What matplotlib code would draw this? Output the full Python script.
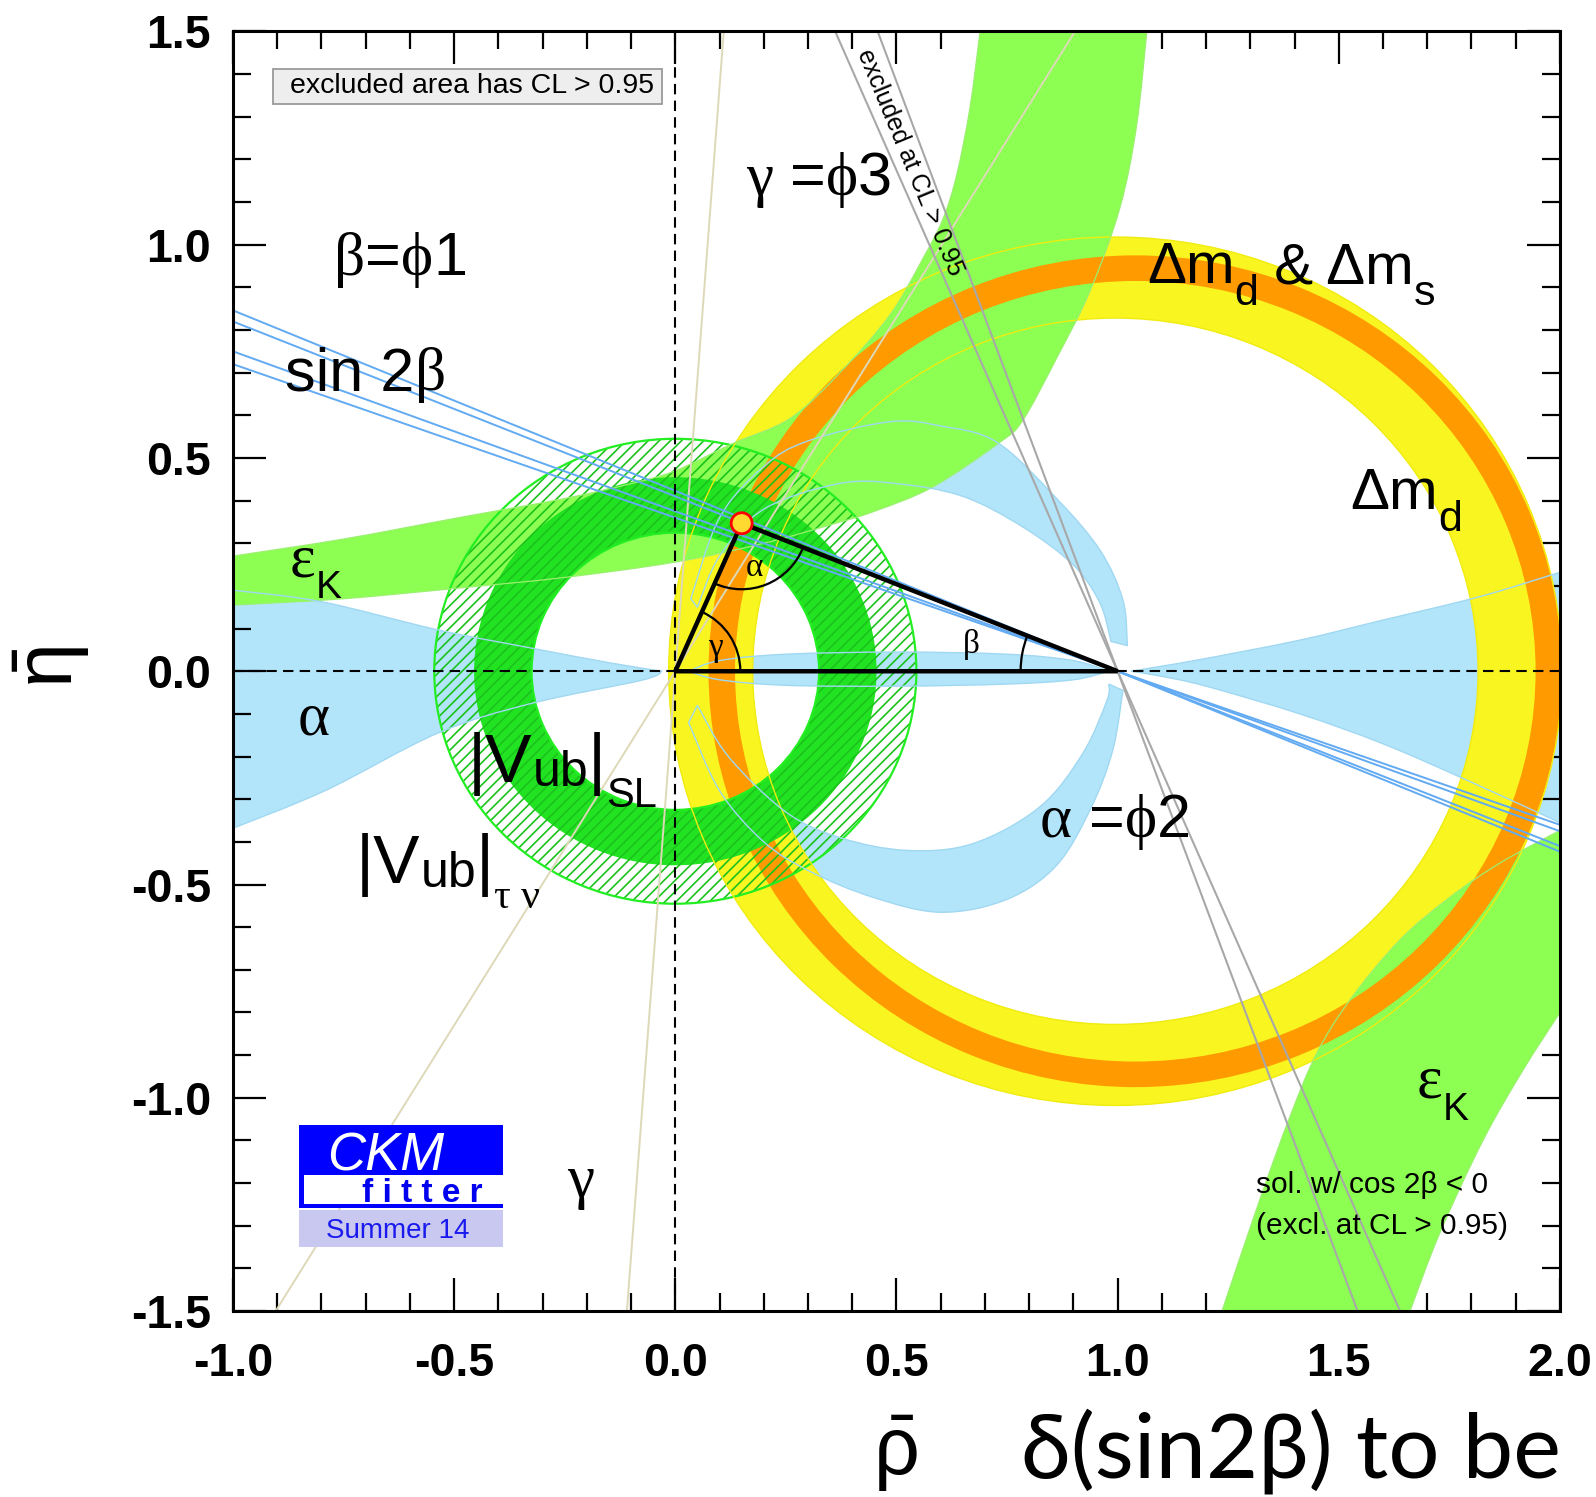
import numpy as np
import matplotlib
matplotlib.use("Agg")
import matplotlib.pyplot as plt
from matplotlib.patches import Annulus, Arc, Ellipse, Rectangle, PathPatch
from matplotlib.path import Path
from matplotlib.ticker import MultipleLocator

plt.rcParams["font.family"] = ["Liberation Sans", "DejaVu Sans"]
plt.rcParams["mathtext.fontset"] = "custom"
plt.rcParams["mathtext.rm"] = "Liberation Sans"
plt.rcParams["mathtext.it"] = "Liberation Serif"
plt.rcParams["axes.unicode_minus"] = False
plt.rcParams["hatch.linewidth"] = 1.2

SANS = ["Liberation Sans", "DejaVu Sans"]
SERIF = ["Liberation Serif", "DejaVu Serif"]

# ------------------------------------------------------------------
# constraints in the (rho_bar, eta_bar) plane
# ------------------------------------------------------------------
apex = (0.150, 0.347)                      # fitted apex of the triangle

# alpha (light blue): each piece is given by its two edges
alpha_left_top = ([-1.0, -0.80, -0.537, -0.324, -0.15, -0.03], [0.19, 0.163, 0.097, 0.054, 0.02, 0.0])
alpha_left_bot = ([-1.0, -0.79, -0.537, -0.324, -0.076, -0.03], [-0.368, -0.279, -0.145, -0.075, -0.021, 0.0])
alpha_axis_top = ([0.03, 0.1, 0.25, 0.5, 0.75, 0.9, 0.98], [0.0, 0.025, 0.04, 0.045, 0.04, 0.025, 0.0])
alpha_axis_bot = ([0.03, 0.1, 0.25, 0.5, 0.75, 0.9, 0.98], [0.0, -0.02, -0.033, -0.035, -0.03, -0.02, 0.0])
alpha_right_top = ([1.03, 1.1, 1.2, 1.412, 1.6, 1.819, 2.0], [0.0, 0.012, 0.03, 0.073, 0.12, 0.175, 0.232])
alpha_right_bot = ([1.03, 1.1, 1.2, 1.412, 1.6, 1.789, 2.0], [0.0, -0.012, -0.035, -0.10, -0.17, -0.255, -0.355])
alpha_up_out = ([0.035, 0.1, 0.2, 0.3, 0.485, 0.6, 0.727, 0.862, 0.96, 1.012, 1.022],
                [0.17, 0.36, 0.48, 0.54, 0.585, 0.575, 0.537, 0.405, 0.284, 0.167, 0.06])
alpha_up_in = ([0.05, 0.1, 0.2, 0.37, 0.5, 0.65, 0.786, 0.899, 0.96, 0.985],
               [0.15, 0.27, 0.38, 0.44, 0.44, 0.41, 0.338, 0.25, 0.16, 0.07])
alpha_low_out = ([0.03, 0.1, 0.2, 0.306, 0.447, 0.6, 0.749, 0.862, 0.94, 0.989, 1.012],
                 [-0.12, -0.28, -0.40, -0.47, -0.53, -0.565, -0.535, -0.455, -0.32, -0.185, -0.045])
alpha_low_in = ([0.05, 0.12, 0.25, 0.372, 0.523, 0.673, 0.824, 0.921, 0.976, 0.98],
                [-0.08, -0.2, -0.33, -0.39, -0.42, -0.404, -0.318, -0.193, -0.068, -0.03])

# eps_K (light green): upper branch and lower branch, two edges each
epsk_up_lo = ([-1.0, -0.75, -0.49, -0.25, 0.0, 0.2, 0.356, 0.45, 0.582, 0.734, 0.786, 0.862, 0.937, 1.005, 1.043, 1.066],
              [0.155, 0.17, 0.195, 0.22, 0.256, 0.30, 0.345, 0.375, 0.432, 0.537, 0.589, 0.734, 0.89, 1.086, 1.28, 1.5])
epsk_up_hi = ([-1.0, -0.75, -0.49, -0.25, -0.1, 0.0, 0.13, 0.26, 0.372, 0.485, 0.56, 0.605, 0.636, 0.666, 0.689],
              [0.27, 0.31, 0.36, 0.405, 0.44, 0.47, 0.534, 0.593, 0.70, 0.835, 0.968, 1.06, 1.163, 1.32, 1.5])
epsk_dn_lo = ([1.236, 1.321, 1.389, 1.45, 1.525, 1.638, 1.751, 1.864, 2.0],
              [-1.5, -1.24, -1.046, -0.896, -0.771, -0.63, -0.53, -0.45, -0.373])
epsk_dn_hi = ([1.661, 1.728, 1.826, 1.916, 2.0], [-1.5, -1.318, -1.1, -0.936, -0.80])

# Delta m_d (yellow) and Delta m_d & Delta m_s (orange) rings: centre, outer semi-axes, width
dmd_center, dmd_radii, dmd_width = (0.995, 0.0), (1.01, 1.018), 0.19
dms_center, dms_radii, dms_width = (1.04, 0.0), (0.965, 0.975), 0.06

# |Vub| rings around the origin: outer radius, inner radius
vub_sl_r = (0.455, 0.325)
vub_taunu_r = (0.545, 0.325)

# straight-line constraints: slopes of the lines
sin2b_slopes = [0.423, 0.41, 0.375, 0.36]        # through (1, 0)
cos2b_slopes = [-2.349, -2.765]                  # through (1, 0), grey
gamma_slopes = [13.7, 1.66]                      # through (0, 0), beige

# ------------------------------------------------------------------
fig = plt.figure(figsize=(15.96, 14.97), dpi=100)
ax = fig.add_axes([0.1460, 0.1242, 0.8314, 0.8548])
ax.set_xlim(-1, 2)
ax.set_ylim(-1.5, 1.5)

BLUE = "#b2e5fa"
BLUE_EDGE = "#a0d8f2"
GREEN = "#8cff52"
YELLOW = "#f8f520"
ORANGE = "#ff9a00"


def bezier_run(pts):
    """Catmull-Rom style cubic segments through a list of points."""
    verts = []
    n = len(pts)
    for i in range(n - 1):
        p0 = pts[max(i - 1, 0)]
        p1, p2 = pts[i], pts[i + 1]
        p3 = pts[min(i + 2, n - 1)]
        verts += [p1 + (p2 - p0) / 6.0, p2 - (p3 - p1) / 6.0, p2]
    return verts


def band_path(edge_a, edge_b):
    a = np.column_stack(edge_a).astype(float)
    b = np.column_stack(edge_b).astype(float)[::-1]
    verts = [a[0]] + bezier_run(a) + [b[0]] + bezier_run(b) + [a[0]]
    codes = ([Path.MOVETO] + [Path.CURVE4] * (3 * (len(a) - 1)) + [Path.LINETO]
             + [Path.CURVE4] * (3 * (len(b) - 1)) + [Path.CLOSEPOLY])
    return Path(verts, codes)


alpha_pieces = [(alpha_left_top, alpha_left_bot), (alpha_axis_top, alpha_axis_bot),
                (alpha_right_top, alpha_right_bot), (alpha_up_out, alpha_up_in),
                (alpha_low_out, alpha_low_in)]
epsk_pieces = [(epsk_up_lo, epsk_up_hi), (epsk_dn_lo, epsk_dn_hi)]

for ea, eb in alpha_pieces:
    ax.add_patch(PathPatch(band_path(ea, eb), fc=BLUE, ec="none", zorder=1))

ax.add_patch(Annulus(dmd_center, dmd_radii, dmd_width, fc=YELLOW, ec="none", zorder=2))

for ea, eb in epsk_pieces:
    ax.add_patch(PathPatch(band_path(ea, eb), fc=GREEN, ec="none", zorder=3))

ax.add_patch(Annulus(dms_center, dms_radii, dms_width, fc=ORANGE, ec="none", zorder=4))

# |Vub| semileptonic (solid) and tau nu (hatched)
ax.add_patch(Annulus((0, 0), vub_sl_r[0], vub_sl_r[0] - vub_sl_r[1], fc="#22e322", ec="none", zorder=5))
ax.add_patch(Annulus((0, 0), vub_taunu_r[0], vub_taunu_r[0] - vub_taunu_r[1], fc="none",
                     ec="#1cc21c", hatch="///", lw=0, zorder=5.1))
ax.add_patch(Annulus((0, 0), vub_taunu_r[0], vub_taunu_r[0] - vub_taunu_r[1], fc="none",
                     ec="#22ee22", lw=1.6, zorder=5.2))

# contour outlines drawn over the filled areas
ax.add_patch(Annulus(dmd_center, dmd_radii, dmd_width, fc="none", ec="#f0ec10", lw=1.0, zorder=6))
for ea, eb in epsk_pieces:
    ax.add_patch(PathPatch(band_path(ea, eb), fc="none", ec="#9cf070", lw=0.9, zorder=6))
for ea, eb in alpha_pieces:
    ax.add_patch(PathPatch(band_path(ea, eb), fc="none", ec=BLUE_EDGE, lw=1.0, zorder=6.1))

# straight-line constraints
for s in sin2b_slopes:
    ax.axline((1, 0), slope=-s, color="#62aaf2", lw=1.4, zorder=7)
for s in cos2b_slopes:
    ax.axline((1, 0), slope=s, color="#a8a8a8", lw=1.5, zorder=7)
for s in gamma_slopes:
    ax.axline((0, 0), slope=s, color="#ddd9b8", lw=1.4, zorder=6.5)

ax.axhline(0, color="k", lw=1.5, dashes=(5, 3), zorder=7)
ax.axvline(0, color="k", lw=1.5, dashes=(5, 3), zorder=7)

# unitarity triangle
ax.plot([0, apex[0], 1, 0], [0, apex[1], 0, 0], color="k", lw=3.2, zorder=8,
        solid_joinstyle="miter", solid_capstyle="butt")

px_x = ax.bbox.width / 3.0
px_y = ax.bbox.height / 3.0


def angle_arc(center, radius_px, p1, p2):
    a1 = np.degrees(np.arctan2(p1[1] - center[1], p1[0] - center[0]))
    a2 = np.degrees(np.arctan2(p2[1] - center[1], p2[0] - center[0]))
    lo, hi = sorted([a1 % 360, a2 % 360])
    ax.add_patch(Arc(center, 2 * radius_px / px_x, 2 * radius_px / px_y,
                     theta1=lo, theta2=hi, color="k", lw=1.6, zorder=8))


angle_arc(apex, 66, (0, 0), (1, 0))
angle_arc((0, 0), 65, (1, 0), apex)
angle_arc((1, 0), 97, apex, (0, 0))

ax.add_patch(Ellipse(apex, 21 / px_x, 21 / px_y, fc="#ffd830", ec="red", lw=2.0, zorder=8.5))

ax.text(0.178, 0.242, "α", fontsize=24, family=SERIF, ha="center", va="center", zorder=10)
ax.text(0.091, 0.054, "γ", fontsize=24, family=SERIF, ha="center", va="center", zorder=10)
ax.text(0.670, 0.063, "β", fontsize=24, family=SERIF, ha="center", va="center", zorder=10)

# constraint labels built from pieces: (text, size, baseline shift in pt, family)
renderer = fig.canvas.get_renderer()
PT = 72.0 / fig.dpi


def rich_label(x, y, parts):
    dx = 0.0
    for s, fs, dy, fam in parts:
        t = ax.annotate(s, (x, y), xytext=(dx, dy), textcoords="offset points",
                        fontsize=fs, family=fam, ha="left", va="baseline", zorder=10)
        dx += t.get_window_extent(renderer).width * PT


G = 44
rich_label(-0.772, 0.929, [("β", G, 0, SERIF), ("=", G, 0, SANS), ("ϕ", G, 0, SERIF), ("1", G, 0, SANS)])
rich_label(0.160, 1.116, [("γ", G, 0, SERIF), (" =", G, 0, SANS), ("ϕ", G, 0, SERIF), ("3", G, 0, SANS)])
rich_label(0.824, -0.388, [("α", G, 0, SERIF), (" =", G, 0, SANS), ("ϕ", G, 0, SERIF), ("2", G, 0, SANS)])
rich_label(1.066, 0.910, [("Δm", 42, 0, SANS), ("d", 31, -16, SANS), (" & Δm", 42, 0, SANS), ("s", 31, -16, SANS)])
rich_label(1.527, 0.380, [("Δm", 42, 0, SANS), ("d", 31, -16, SANS)])
rich_label(-0.882, 0.659, [("sin 2", G, 0, SANS), ("β", G, 0, SERIF)])
rich_label(-0.871, 0.223, [("ε", G, 0, SERIF), ("K", 28, -16, SANS)])
rich_label(1.676, -0.999, [("ε", G, 0, SERIF), ("K", 28, -16, SANS)])
rich_label(-0.853, -0.149, [("α", G, 0, SERIF)])
rich_label(-0.245, -1.233, [("γ", G, 0, SERIF)])
rich_label(-0.469, -0.260, [("|V", 50, 0, SANS), ("ub", 36, -3, SANS), ("|", 50, 0, SANS), ("SL", 30, -18, SANS)])
rich_label(-0.722, -0.497, [("|V", 50, 0, SANS), ("ub", 36, -3, SANS), ("|", 50, 0, SANS), ("τ ν", 30, -18, SERIF)])

ax.text(1.312, -1.224, "sol. w/ cos 2β < 0", fontsize=21.5, va="baseline", zorder=10)
ax.text(1.312, -1.319, "(excl. at CL > 0.95)", fontsize=21.5, va="baseline", zorder=10)

ax.text(0.530, 1.192, "excluded at CL > 0.95", fontsize=18, rotation=-67.5,
        rotation_mode="anchor", ha="center", va="center", zorder=10)

# legend note
ax.add_patch(Rectangle((-0.910, 1.330), 0.880, 0.082, fc="#eeeeee", ec="#9a9a9a", lw=1.3, zorder=10))
ax.text(-0.871, 1.371, "excluded area has CL > 0.95", fontsize=20.5, va="center", zorder=10.1)

# CKMfitter logo
ax.add_patch(Rectangle((-0.851, -1.258), 0.461, 0.194, fc="#0000ff", ec="none", zorder=10))
ax.add_patch(Rectangle((-0.840, -1.248), 0.450, 0.066, fc="white", ec="none", zorder=10.1))
ax.add_patch(Rectangle((-0.851, -1.350), 0.461, 0.086, fc="#c8c8f0", ec="none", zorder=10))
ax.text(-0.788, -1.170, "CKM", fontsize=38, style="italic", color="white", va="baseline", zorder=10.2)
ax.text(-0.708, -1.244, "f i t t e r", fontsize=24, fontweight="bold", color="#0000ee",
        ha="left", va="baseline", zorder=10.2)
ax.text(-0.627, -1.329, "Summer 14", fontsize=20, color="#1a1aee", ha="center", va="baseline",
        zorder=10.2)

# axes styling
ticks_x = np.arange(-1.0, 2.01, 0.5)
ticks_y = np.arange(-1.5, 1.51, 0.5)
ax.set_xticks(ticks_x, labels=[f"{t:.1f}" for t in ticks_x], fontsize=33.5, fontweight="bold")
ax.set_yticks(ticks_y, labels=[f"{t:.1f}" for t in ticks_y], fontsize=33.5, fontweight="bold")
ax.xaxis.set_minor_locator(MultipleLocator(0.1))
ax.yaxis.set_minor_locator(MultipleLocator(0.1))
ax.tick_params(which="both", direction="in", top=True, right=True, width=1.6)
ax.tick_params(which="major", length=24)
ax.tick_params(axis="x", which="major", pad=22)
ax.tick_params(axis="y", which="major", pad=16)
ax.tick_params(which="minor", length=13)
for sp in ax.spines.values():
    sp.set_linewidth(2.2)
    sp.set_zorder(11)

fig.text(0.5608, 0.0150, r"$\bar{\mathrm{\rho}}$", fontsize=58, ha="center", va="baseline")
fig.text(0.0326, 0.5544, r"$\bar{\mathrm{\eta}}$", fontsize=58, ha="center", va="center", rotation=90)
fig.text(0.6397, 0.0127, "δ(sin2β) to be", fontsize=65, family=["Lato", "DejaVu Sans"],
         ha="left", va="baseline")

fig.savefig("out.png", dpi=100)
